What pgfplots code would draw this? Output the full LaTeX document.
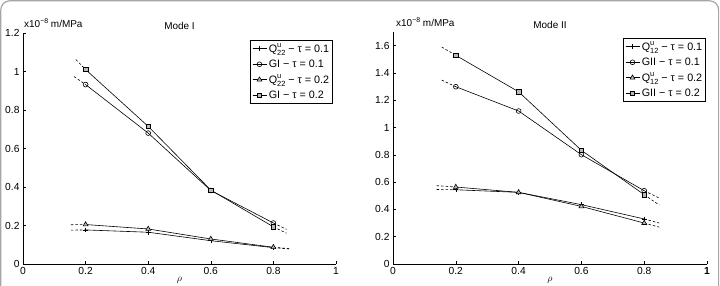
\documentclass[border=0pt]{standalone}
\usepackage{pgfplots}
\pgfplotsset{compat=1.18}
\usepackage{fontspec}
\setmainfont{Liberation Sans}

% stacked super/subscript for the Q labels
\newcommand{\Qs}[1]{Q\rlap{\raisebox{0.8ex}{\fontsize{7.5}{7.5}\selectfont u}}\raisebox{-0.6ex}{\fontsize{7.5}{7.5}\selectfont #1}}
\newcommand{\unitlabel}{x10\raisebox{0.8ex}{\fontsize{7}{7}\selectfont −8} m/MPa}

\pgfplotsset{
  panel/.style={
    scale only axis,
    axis lines=left,
    axis line style={-, line width=0.6pt},
    tick align=inside,
    major tick length=3bp,
    tick style={line width=0.5pt, black},
    xmin=0, xmax=1,
    xtick={0,0.2,0.4,0.6,0.8,1},
    xticklabels={0,0.2,0.4,0.6,0.8,1},
    ymin=0,
    /pgf/number format/assume math mode=true,
    ticklabel style={font=\fontsize{10.3}{11}\selectfont},
    xlabel={$\rho$},
    xlabel style={yshift=4bp},
    title style={font=\fontsize{10}{11}\selectfont, yshift=-6bp},
    legend style={font=\fontsize{10.8}{12}\selectfont, draw=black, line width=0.6pt,
      inner sep=1.5bp, row sep=2bp, cells={anchor=west}},
    legend cell align=left,
    legend image code/.code={%
      \draw[mark repeat=2, mark phase=2] plot coordinates {(0bp,0bp) (7bp,0bp) (14bp,0bp)};},
    every axis plot/.append style={line width=0.6pt, black, mark size=2.4bp},
  },
  s1/.style={mark=+},
  s2/.style={mark=o, mark options={fill=white}},
  s3/.style={mark=triangle*, mark options={fill=gray!55, mark size=2.8bp}},
  s4/.style={mark=square*, mark options={fill=gray!55, mark size=2.2bp}},
  ext/.style={dashed, dash pattern=on 2.5bp off 2bp, line width=0.6pt, forget plot},
}

\begin{document}
\begin{tikzpicture}
\useasboundingbox (0bp,0bp) rectangle (720bp,286bp);
% rounded outer frame
\draw[gray!70, line width=1.2pt, rounded corners=9bp] (0.8bp,-20bp) -- (0.8bp,285.2bp) -- (718.6bp,285.2bp) -- (718.6bp,-20bp);

% ---------------- Mode I ----------------
\begin{axis}[panel, name=modeI,
  at={(23bp,22bp)}, anchor=south west,
  width=313bp, height=231bp,
  ymax=1.2,
  ytick={0,0.2,0.4,0.6,0.8,1,1.2},
  yticklabels={0,0.2,0.4,0.6,0.8,1,1.2},
  title={Mode I},
  legend style={at={(rel axis cs:1,1)}, anchor=north east, xshift=-3bp, yshift=-7bp},
]
\addplot[s1] coordinates {(0.2,0.177) (0.4,0.165) (0.6,0.121) (0.8,0.085)};
\addlegendentry{\Qs{22} − τ = 0.1}
\addplot[s2] coordinates {(0.2,0.932) (0.4,0.680) (0.6,0.382) (0.8,0.213)};
\addlegendentry{GI − τ = 0.1}
\addplot[s3] coordinates {(0.2,0.205) (0.4,0.182) (0.6,0.130) (0.8,0.087)};
\addlegendentry{\Qs{22} − τ = 0.2}
\addplot[s4] coordinates {(0.2,1.010) (0.4,0.715) (0.6,0.384) (0.8,0.193)};
\addlegendentry{GI − τ = 0.2}
% dashed extrapolations
\addplot[ext] coordinates {(0.153,0.176) (0.2,0.177)};
\addplot[ext] coordinates {(0.8,0.085) (0.85,0.078)};
\addplot[ext] coordinates {(0.153,0.204) (0.2,0.205)};
\addplot[ext] coordinates {(0.8,0.087) (0.85,0.080)};
\addplot[ext] coordinates {(0.163,0.974) (0.2,0.932)};
\addplot[ext] coordinates {(0.8,0.213) (0.842,0.180)};
\addplot[ext] coordinates {(0.169,1.062) (0.2,1.010)};
\addplot[ext] coordinates {(0.8,0.193) (0.842,0.160)};
\end{axis}
\node[anchor=base west, inner sep=0pt, font=\fontsize{10}{11}\selectfont]
  at ([xshift=1bp, yshift=5bp]modeI.north west) {\unitlabel};

% ---------------- Mode II ----------------
\begin{axis}[panel, name=modeII,
  at={(393bp,22bp)}, anchor=south west,
  width=314bp, height=232bp,
  ymax=1.7,
  ytick={0,0.2,0.4,0.6,0.8,1,1.2,1.4,1.6},
  yticklabels={0,0.2,0.4,0.6,0.8,1,1.2,1.4,1.6},
  xticklabels={0,0.2,0.4,0.6,0.8,\textbf{1}},
  title={Mode II},
  legend style={at={(rel axis cs:1,1)}, anchor=north east, xshift=-1bp, yshift=-6bp},
]
\addplot[s1] coordinates {(0.2,0.544) (0.4,0.525) (0.6,0.435) (0.8,0.330)};
\addlegendentry{\Qs{12} − τ = 0.1}
\addplot[s2] coordinates {(0.2,1.299) (0.4,1.121) (0.6,0.801) (0.8,0.537)};
\addlegendentry{GII − τ = 0.1}
\addplot[s3] coordinates {(0.2,0.564) (0.4,0.525) (0.6,0.422) (0.8,0.300)};
\addlegendentry{\Qs{12} − τ = 0.2}
\addplot[s4] coordinates {(0.2,1.529) (0.4,1.262) (0.6,0.833) (0.8,0.508)};
\addlegendentry{GII − τ = 0.2}
% dashed extrapolations
\addplot[ext] coordinates {(0.139,0.546) (0.2,0.544)};
\addplot[ext] coordinates {(0.8,0.330) (0.848,0.300)};
\addplot[ext] coordinates {(0.139,0.574) (0.2,0.564)};
\addplot[ext] coordinates {(0.8,0.300) (0.848,0.270)};
\addplot[ext] coordinates {(0.155,1.348) (0.2,1.299)};
\addplot[ext] coordinates {(0.8,0.537) (0.848,0.483)};
\addplot[ext] coordinates {(0.155,1.590) (0.2,1.529)};
\addplot[ext] coordinates {(0.8,0.508) (0.848,0.432)};
\end{axis}
\node[anchor=base west, inner sep=0pt, font=\fontsize{10}{11}\selectfont]
  at ([xshift=3bp, yshift=5bp]modeII.north west) {\unitlabel};
\end{tikzpicture}
\end{document}
